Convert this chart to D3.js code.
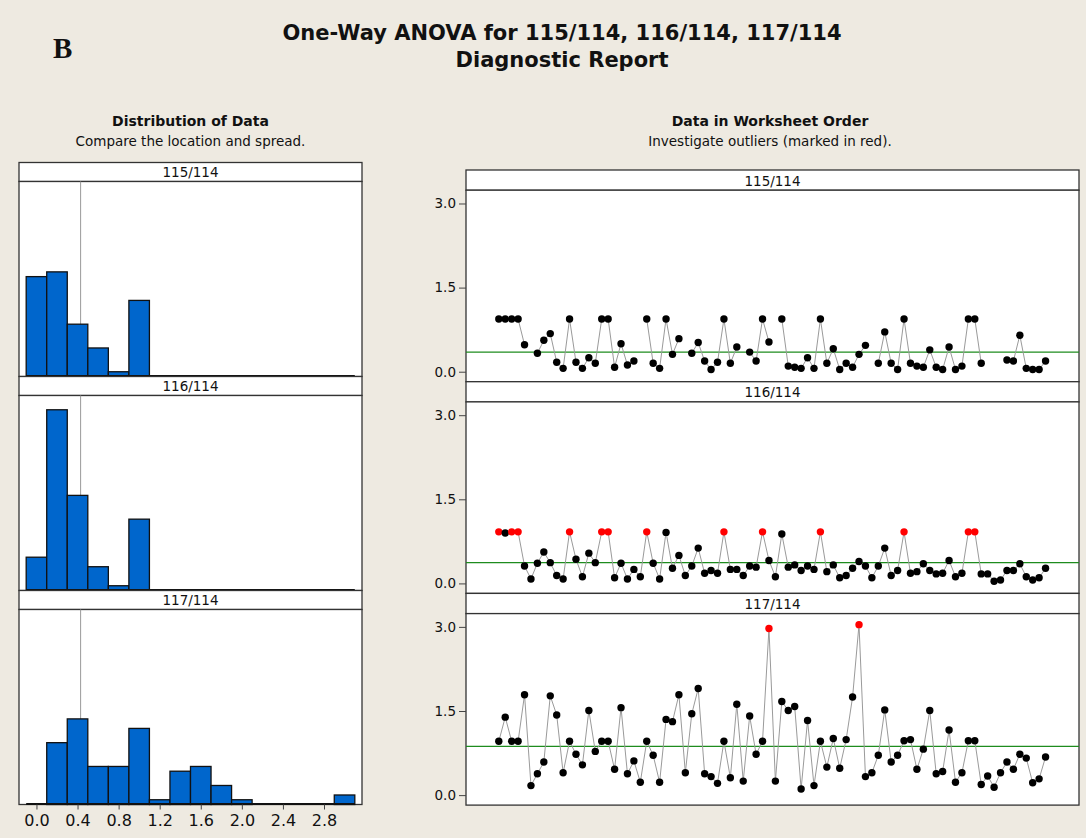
<!DOCTYPE html>
<html>
<head>
<meta charset="utf-8">
<script src="https://cdn.jsdelivr.net/npm/d3@7"></script>
<style>
  body { margin: 0; background: #eeeae1; }
  svg text { font-family: 'DejaVu Sans', sans-serif; fill: #111; }
</style>
</head>
<body>
<script>
var width = 1086,
    height = 838;

// groups and histogram bins (bin mid points, width 0.2)
var groups = ["115/114", "116/114", "117/114"];
var binMids = [0.0, 0.2, 0.4, 0.6, 0.8, 1.0, 1.2, 1.4, 1.6, 1.8, 2.0, 2.2, 2.4, 2.6, 2.8, 3.0];
var hist115 = [21, 22, 11, 6, 1, 16, 0, 0, 0, 0, 0, 0, 0, 0, 0, 0];
var hist116 = [7, 38, 20, 5, 1, 15, 0, 0, 0, 0, 0, 0, 0, 0, 0, 0];
var hist117 = [0, 13, 18, 8, 8, 16, 1, 7, 8, 4, 1, 0, 0, 0, 0, 2];
var histTicks = [0.0, 0.4, 0.8, 1.2, 1.6, 2.0, 2.4, 2.8];
var refLine = 0.43;

// worksheet order values (null = missing)
var ratio115 = [0.94,0.94,0.94,0.94,0.48,null,0.33,0.56,0.68,0.17,
  0.06,0.94,0.17,0.06,0.25,0.15,0.94,0.94,0.08,0.50,
  0.12,0.19,null,0.94,0.15,0.06,0.94,0.31,0.59,null,
  0.33,0.52,0.19,0.04,0.17,0.94,0.15,0.44,null,0.35,
  0.19,0.94,0.53,null,0.94,0.10,0.08,0.06,0.25,0.06,
  0.94,0.15,0.41,0.04,0.15,0.08,0.31,0.47,null,0.15,
  0.71,0.15,0.04,0.94,0.15,0.10,0.08,0.39,0.08,0.04,
  0.44,0.04,0.10,0.94,0.94,0.15,null,null,null,0.21,
  0.19,0.65,0.06,0.04,0.04,0.19];
var ratio116 = [0.92,0.90,0.92,0.92,0.31,0.08,0.36,0.56,0.37,0.14,
  0.08,0.92,0.43,0.12,0.54,0.37,0.92,0.92,0.10,0.36,
  0.08,0.25,0.12,0.92,0.36,0.08,0.91,0.27,0.50,0.14,
  0.31,0.63,0.18,0.23,0.18,0.92,0.25,0.25,0.14,0.31,
  0.29,0.92,0.41,0.12,0.88,0.29,0.33,0.23,0.31,0.25,
  0.92,0.21,0.33,0.10,0.14,0.27,0.39,0.31,0.10,0.31,
  0.63,0.14,0.23,0.92,0.18,0.21,0.35,0.23,0.17,0.18,
  0.41,0.12,0.18,0.92,0.92,0.17,0.17,0.04,0.06,0.23,
  0.23,0.35,0.12,0.06,0.10,0.27];
var ratio117 = [0.96,1.39,0.96,0.96,1.79,0.17,0.38,0.59,1.77,1.43,
  0.40,0.96,0.73,0.54,1.51,0.78,0.96,0.96,0.46,1.56,
  0.38,0.61,0.23,0.96,0.71,0.23,1.35,1.31,1.79,0.40,
  1.45,1.90,0.38,0.33,0.21,0.96,0.31,1.62,0.25,1.41,
  0.73,0.96,2.97,0.25,1.67,1.51,1.58,0.11,1.33,0.17,
  0.96,0.50,1.01,0.48,0.99,1.75,3.04,0.33,0.40,0.71,
  1.52,0.59,0.71,0.97,0.99,0.46,0.82,1.51,0.38,0.42,
  1.16,0.23,0.40,0.97,0.97,0.19,0.34,0.14,0.40,0.59,
  0.46,0.73,0.66,0.22,0.29,0.68];
var outliers115 = [];
var outliers116 = [1, 3, 4, 12, 17, 18, 24, 36, 42, 51, 64, 74, 75];
var outliers117 = [43, 57];
var means = [0.35, 0.37, 0.87];
var dotTicks = [0.0, 1.5, 3.0];

var histData = [hist115, hist116, hist117];
var ratioData = [ratio115, ratio116, ratio117];
var outlierData = [outliers115, outliers116, outliers117];

var svg = d3.select("body").append("svg")
    .attr("width", width)
    .attr("height", height);

svg.append("rect").attr("width", width).attr("height", height).attr("fill", "#eeeae1");

// titles
svg.append("text").attr("x", 53).attr("y", 57.5)
  .style("font-family", "'Liberation Serif', serif").style("font-weight", "bold")
  .style("font-size", "29px").text("B");
svg.append("text").attr("x", 562).attr("y", 40).attr("text-anchor", "middle")
  .style("font-weight", "bold").style("font-size", "21px")
  .text("One-Way ANOVA for 115/114, 116/114, 117/114");
svg.append("text").attr("x", 562).attr("y", 66.5).attr("text-anchor", "middle")
  .style("font-weight", "bold").style("font-size", "21px")
  .text("Diagnostic Report");

function heading(cx, title, sub) {
  svg.append("text").attr("x", cx).attr("y", 125.5).attr("text-anchor", "middle")
    .style("font-weight", "bold").style("font-size", "14px").text(title);
  svg.append("text").attr("x", cx).attr("y", 146).attr("text-anchor", "middle")
    .style("font-size", "13.5px").text(sub);
}
heading(190.5, "Distribution of Data", "Compare the location and spread.");
heading(770, "Data in Worksheet Order", "Investigate outliers (marked in red).");

function panelFrame(x0, x1, top, headH, plotH, label) {
  svg.append("rect").attr("x", x0).attr("y", top).attr("width", x1 - x0).attr("height", headH)
    .attr("fill", "white").attr("stroke", "#333").attr("stroke-width", 1.3);
  svg.append("text").attr("x", (x0 + x1) / 2).attr("y", top + headH - 4.5)
    .attr("text-anchor", "middle").style("font-size", "13.5px").text(label);
  svg.append("rect").attr("x", x0).attr("y", top + headH).attr("width", x1 - x0).attr("height", plotH)
    .attr("fill", "white").attr("stroke", "#333").attr("stroke-width", 1.3);
}

// ---- histograms ----
var hx0 = 19, hx1 = 362, hTop = 162.5, hHead = 19, hPlot = 195, hStep = 214;
var xh = d3.scaleLinear().domain([-0.17, 3.17]).range([hx0, hx1]);

groups.forEach(function (g, k) {
  var top = hTop + k * hStep;
  var pTop = top + hHead, pBot = pTop + hPlot;
  panelFrame(hx0, hx1, top, hHead, hPlot, g);

  var yh = d3.scaleLinear().domain([0, 41]).range([pBot, pTop]);

  svg.append("line")
    .attr("x1", xh(refLine)).attr("x2", xh(refLine))
    .attr("y1", pTop).attr("y2", pBot)
    .attr("stroke", "#999").attr("stroke-width", 1);

  var bins = binMids.map(function (m, i) { return { mid: m, n: histData[k][i] }; })
    .filter(function (d) { return d.n > 0; });

  svg.append("g").selectAll("rect").data(bins).enter().append("rect")
    .attr("x", function (d) { return xh(d.mid - 0.1); })
    .attr("width", function (d) { return xh(d.mid + 0.1) - xh(d.mid - 0.1); })
    .attr("y", function (d) { return yh(d.n); })
    .attr("height", function (d) { return yh(0) - yh(d.n); })
    .attr("fill", "#0066cc")
    .attr("stroke", "#111").attr("stroke-width", 1.3);

  svg.append("line")
    .attr("x1", xh(-0.1)).attr("x2", xh(3.1))
    .attr("y1", yh(0) - 0.5).attr("y2", yh(0) - 0.5)
    .attr("stroke", "#111").attr("stroke-width", 1.8);

  if (k === groups.length - 1) {
    var ax = svg.append("g").attr("transform", "translate(0," + pBot + ")")
      .call(d3.axisBottom(xh).tickValues(histTicks).tickFormat(d3.format(".1f"))
        .tickSize(5).tickPadding(5));
    ax.select(".domain").remove();
    ax.selectAll("line").attr("stroke", "#444");
    ax.selectAll("text").style("font-size", "16px").attr("fill", "#333");
  }
});

// ---- worksheet order plots ----
var dx0 = 466, dx1 = 1079, dTop = 170, dHead = 20.2, dPlot = 191.5, dStep = 211.7;
var xd = d3.scaleLinear().domain([-4.1, 91.2]).range([dx0, dx1]);

groups.forEach(function (g, k) {
  var top = dTop + k * dStep;
  var pTop = top + dHead, pBot = pTop + dPlot;
  panelFrame(dx0, dx1, top, dHead, dPlot, g);

  var yd = d3.scaleLinear().domain([-0.178, 3.237]).range([pBot, pTop]);

  var pts = ratioData[k].map(function (v, i) {
    return { i: i + 1, v: v, out: outlierData[k].indexOf(i + 1) >= 0 };
  });

  svg.append("line")
    .attr("x1", dx0).attr("x2", dx1)
    .attr("y1", yd(means[k])).attr("y2", yd(means[k]))
    .attr("stroke", "#1e8c1e").attr("stroke-width", 1.3);

  var line = d3.line()
    .defined(function (d) { return d.v !== null; })
    .x(function (d) { return xd(d.i); })
    .y(function (d) { return yd(d.v); });

  svg.append("path").datum(pts)
    .attr("d", line)
    .attr("fill", "none")
    .attr("stroke", "#9a9a9a").attr("stroke-width", 1);

  svg.append("g").selectAll("circle")
    .data(pts.filter(function (d) { return d.v !== null; }))
    .enter().append("circle")
      .attr("cx", function (d) { return xd(d.i); })
      .attr("cy", function (d) { return yd(d.v); })
      .attr("r", 3.7)
      .attr("fill", function (d) { return d.out ? "#ff0000" : "black"; });

  var ay = svg.append("g").attr("transform", "translate(" + dx0 + ",0)")
    .call(d3.axisLeft(yd).tickValues(dotTicks).tickFormat(d3.format(".1f"))
      .tickSize(7).tickPadding(3));
  ay.select(".domain").remove();
  ay.selectAll("line").attr("stroke", "#444");
  ay.selectAll("text").style("font-size", "13.5px").attr("fill", "#333");
});
</script>
</body>
</html>
